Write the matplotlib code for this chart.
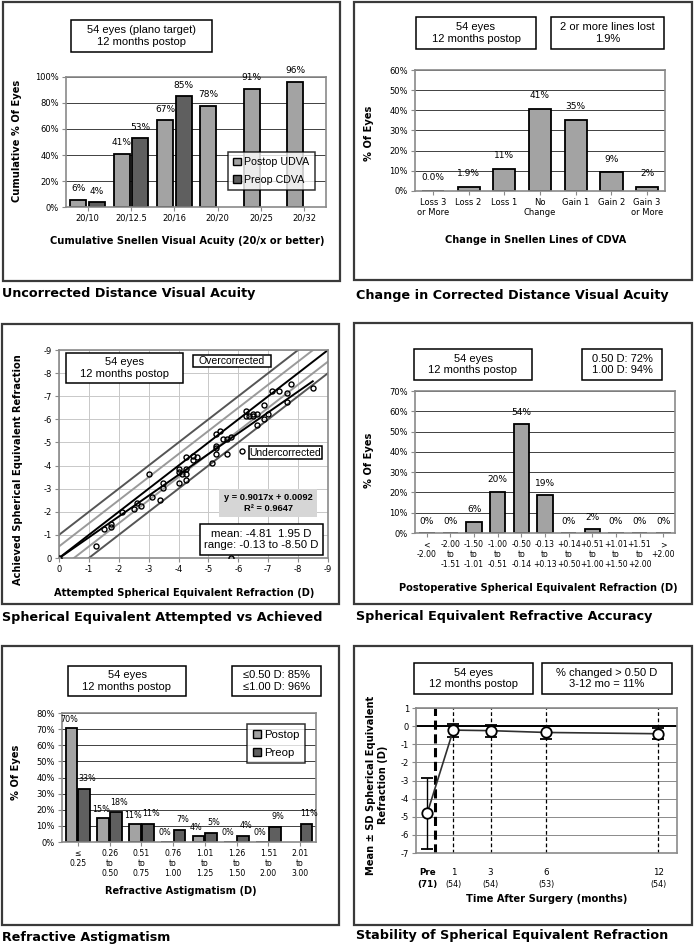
import numpy as np
import matplotlib
matplotlib.use("Agg")
import matplotlib.pyplot as plt
from matplotlib.patches import Rectangle, Patch

plt.rcParams["axes.unicode_minus"] = False

# =============================================================================
# Data
# =============================================================================
# Panel 1: cumulative UDVA / CDVA
snellen_cats = ["20/10", "20/12.5", "20/16", "20/20", "20/25", "20/32"]
udva_postop = [5.6, 40.7, 66.7, 77.8, 90.7, 96.3]
udva_labels = ["6%", "41%", "67%", "78%", "91%", "96%"]
cdva_preop = [3.7, 52.8, 85.0, np.nan, np.nan, np.nan]
cdva_labels = ["4%", "53%", "85%", "", "", ""]

# Panel 2: change in lines of CDVA
line_cats = ["Loss 3\nor More", "Loss 2", "Loss 1", "No\nChange", "Gain 1", "Gain 2", "Gain 3\nor More"]
line_pct = [0.0, 1.9, 11.1, 40.7, 35.2, 9.3, 1.9]
line_labels = ["0.0%", "1.9%", "11%", "41%", "35%", "9%", "2%"]

# Panel 3: attempted vs achieved SE
attempted = [0, -1.25, -1.5, -1.75, -1.75, -2.12, -2.5, -2.62, -2.74, -3.0, -3.11, -3.37,
             -3.49, -3.49, -4.0, -4.0, -4.0, -4.1, -4.24, -4.24, -4.24, -4.24, -4.49, -4.49,
             -4.62, -5.12, -5.24, -5.24, -5.24, -5.24, -5.37, -5.5, -5.62, -5.62, -5.74,
             -5.74, -6.13, -6.24, -6.24, -6.36, -6.5, -6.5, -6.62, -6.62, -6.87, -6.87,
             -7.0, -7.12, -7.37, -7.62, -7.62, -7.75, -8.49]
achieved = [0, -0.5, -1.25, -1.47, -1.36, -2.0, -2.13, -2.4, -2.27, -3.64, -2.64, -2.51,
            -3.25, -3.02, -3.85, -3.72, -3.26, -3.64, -3.85, -3.64, -3.38, -4.37, -4.43, -4.24,
            -4.37, -4.13, -4.52, -4.75, -4.85, -5.37, -5.5, -5.15, -4.52, -5.15, -5.24,
            0.0, -4.62, -6.38, -6.13, -6.13, -6.13, -6.23, -6.23, -5.74, -6.62, -6.0,
            -6.23, -7.24, -7.24, -7.14, -6.77, -7.52, -7.37]
fit_slope, fit_icpt = 0.9017, 0.0092
band_offsets = [-1.0, -0.5, 0.0, 0.5, 1.0]
band_colors = ["#555555", "#9a9a9a", "black", "#9a9a9a", "#555555"]

# Panel 4: SE refractive accuracy
se_cats = ["<\n-2.00", "-2.00\nto\n-1.51", "-1.50\nto\n-1.01", "-1.00\nto\n-0.51", "-0.50\nto\n-0.14",
           "-0.13\nto\n+0.13", "+0.14\nto\n+0.50", "+0.51\nto\n+1.00", "+1.01\nto\n+1.50",
           "+1.51\nto\n+2.00", ">\n+2.00"]
se_pct = [0, 0, 5.6, 20.4, 53.7, 18.5, 0, 1.9, 0, 0, 0]
se_labels = ["0%", "0%", "6%", "20%", "54%", "19%", "0%", "2%", "0%", "0%", "0%"]

# Panel 5: refractive astigmatism
astig_cats = ["\u2264\n0.25", "0.26\nto\n0.50", "0.51\nto\n0.75", "0.76\nto\n1.00", "1.01\nto\n1.25",
              "1.26\nto\n1.50", "1.51\nto\n2.00", "2.01\nto\n3.00"]
astig_postop = [70.4, 14.8, 11.1, 0, 3.7, 0, 0, np.nan]
astig_postop_labels = ["70%", "15%", "11%", "0%", "4%", "0%", "0%", ""]
astig_preop = [32.9, 18.3, 11.0, 7.3, 5.5, 3.7, 9.2, 11.0]
astig_preop_labels = ["33%", "18%", "11%", "7%", "5%", "4%", "9%", "11%"]

# Panel 6: stability
visit_x = [-0.4, 1, 3, 6, 12]
visit_top = ["Pre", "1", "3", "6", "12"]
visit_n = ["(71)", "(54)", "(54)", "(53)", "(54)"]
se_mean = [-4.81, -0.22, -0.25, -0.35, -0.42]
se_sd = [1.95, 0.36, 0.33, 0.37, 0.30]

# =============================================================================
# Layout helpers (pixel coordinates of the 694x946 reference)
# =============================================================================
W, H = 694, 946
LIGHT, DARK = "#a3a3a3", "#5f5f5f"
BOX_FONT = "Liberation Sans"

fig = plt.figure(figsize=(W / 100, H / 100), dpi=100)


def fx(x):
    return x / W


def fy(y):
    return 1 - y / H


def add_axes(l, t, r, b):
    return fig.add_axes([fx(l), fy(b), (r - l) / W, (b - t) / H])


def frame(l, t, r, b):
    fig.add_artist(Rectangle((fx(l), fy(b)), (r - l) / W, (b - t) / H, transform=fig.transFigure,
                             fill=False, ec="#3a3a3a", lw=1.6))


def text_box(l, t, r, b, text, fc="white", **kw):
    fig.add_artist(Rectangle((fx(l), fy(b)), (r - l) / W, (b - t) / H, transform=fig.transFigure,
                             fc=fc, ec="black", lw=1.1, zorder=4))
    opts = dict(family=BOX_FONT, fontsize=8, linespacing=1.2)
    opts.update(kw)
    fig.text(fx((l + r) / 2), fy((t + b) / 2), text, ha="center", va="center", zorder=5, **opts)


def title(x, y, text):
    fig.text(fx(x), fy(y), text, ha="left", va="center", fontsize=9.2, weight="bold")


def xlabel(x, y, text):
    fig.text(fx(x), fy(y), text, ha="center", va="center", fontsize=7.1, weight="bold")


def ylabel(x, y, text):
    fig.text(fx(x), fy(y), text, ha="center", va="center", fontsize=7.1, weight="bold",
             rotation=90, linespacing=1.2)


def style(ax, grid_color="#404040"):
    for s in ax.spines.values():
        s.set_color("#8a8a8a")
        s.set_linewidth(1.2)
    ax.tick_params(labelsize=6, length=3, width=0.8, color="#8a8a8a", pad=2)
    ax.yaxis.grid(True, color=grid_color, lw=0.7)
    ax.set_axisbelow(True)


def pct_axis(ax, top, step):
    ax.set_ylim(0, top)
    ticks = np.arange(0, top + 1, step)
    ax.set_yticks(ticks)
    ax.set_yticklabels([f"{t:.0f}%" for t in ticks])


def bar_labels(ax, xs, vals, labels, off, size=6.5):
    for x, v, lab in zip(xs, vals, labels):
        if lab:
            ax.annotate(lab, (x, 0 if np.isnan(v) else v), xytext=(0, off), textcoords="offset points",
                        ha="center", va="center", fontsize=size)


def legend(ax, handles, x, y, size):
    leg = ax.legend(handles=handles, loc="upper left", bbox_to_anchor=(fx(x), fy(y)),
                    bbox_transform=fig.transFigure, frameon=True, fancybox=False,
                    handlelength=0.7, handleheight=0.7, handletextpad=0.3, borderpad=0.5,
                    labelspacing=0.7, borderaxespad=0, prop={"family": BOX_FONT, "size": size})
    leg.get_frame().set_edgecolor("black")
    leg.get_frame().set_linewidth(1.1)
    return leg


# =============================================================================
# Panel 1: Uncorrected Distance Visual Acuity
# =============================================================================
frame(3, 2, 340, 281)
ax1 = add_axes(66, 77, 326, 207)
style(ax1)
x1 = np.arange(len(snellen_cats))
ax1.bar(x1 - 0.215, udva_postop, 0.37, color=LIGHT, ec="black", lw=1.3)
ax1.bar(x1 + 0.215, cdva_preop, 0.37, color=DARK, ec="black", lw=1.3)
bar_labels(ax1, x1 - 0.215, udva_postop, udva_labels, 8)
bar_labels(ax1, x1 + 0.215, cdva_preop, cdva_labels, 8)
ax1.set_xlim(-0.5, len(snellen_cats) - 0.5)
ax1.set_xticks(x1)
ax1.set_xticklabels(snellen_cats)
pct_axis(ax1, 100, 20)
legend(ax1, [Patch(fc=LIGHT, ec="black", label="Postop UDVA"),
             Patch(fc=DARK, ec="black", label="Preop CDVA")], 228, 152, 7.7)
text_box(71, 20, 212, 52, "54 eyes (plano target)\n12 months postop")
ylabel(17, 141, "Cumulative % Of Eyes")
xlabel(187, 241, "Cumulative Snellen Visual Acuity (20/x or better)")
title(2, 293, "Uncorrected Distance Visual Acuity")

# =============================================================================
# Panel 2: Change in Corrected Distance Visual Acuity
# =============================================================================
frame(354, 2, 692, 280)
ax2 = add_axes(415, 70, 665, 191)
style(ax2)
x2 = np.arange(len(line_cats))
ax2.bar(x2, line_pct, 0.62, color=LIGHT, ec="black", lw=1.3)
bar_labels(ax2, x2, line_pct, line_labels, 9.5)
ax2.set_xlim(-0.5, len(line_cats) - 0.5)
ax2.set_xticks(x2)
ax2.set_xticklabels(line_cats, linespacing=1.15)
pct_axis(ax2, 60, 10)
text_box(416, 17, 536, 49, "54 eyes\n12 months postop")
text_box(551, 17, 664, 49, "2 or more lines lost\n1.9%")
ylabel(369, 133, "% Of Eyes")
xlabel(536, 240, "Change in Snellen Lines of CDVA")
title(356, 295, "Change in Corrected Distance Visual Acuity")

# =============================================================================
# Panel 3: Spherical Equivalent Attempted vs Achieved
# =============================================================================
frame(2, 324, 339, 604)
ax3 = add_axes(59, 350, 328, 558)
style(ax3, grid_color="#c8c8c8")
ax3.xaxis.grid(True, color="#c8c8c8", lw=0.7)
ax3.set_xlim(0, -9)
ax3.set_ylim(0, -9)
ax3.set_xticks(np.arange(0, -10, -1))
ax3.set_yticks(np.arange(0, -10, -1))
xs = np.array([1.5, -10.5])
for off, col in zip(band_offsets, band_colors):
    ax3.plot(xs, xs + off, color=col, lw=1.4, zorder=2)
fit_x = np.array([0, min(attempted)])
ax3.plot(fit_x, fit_slope * fit_x + fit_icpt, color="black", lw=1.4, zorder=2)
ax3.plot(attempted, achieved, "o", ms=3.6, mfc="none", mec="black", mew=1.0, zorder=3)
text_box(66, 353, 183, 383, "54 eyes\n12 months postop")
text_box(193, 355, 271, 367, "Overcorrected", fontsize=7.5)
text_box(249, 446, 322, 459, "Undercorrected", fontsize=7.5)
fig.add_artist(Rectangle((fx(219), fy(517)), (317 - 219) / W, (517 - 489) / H, transform=fig.transFigure,
                         fc="#d6d6d6", ec="none", zorder=4))
fig.text(fx(268), fy(503), f"y = {fit_slope:.4f}x + {fit_icpt:.4f}\nR\u00b2 = 0.9647", ha="center",
         va="center", fontsize=6.7, weight="bold", family=BOX_FONT, zorder=5, linespacing=1.2)
text_box(200, 524, 323, 555, "mean: -4.81  1.95 D\nrange: -0.13 to -8.50 D", fontsize=8.2)
ylabel(18, 470, "Achieved Spherical Equivalent Refraction")
xlabel(184, 593, "Attempted Spherical Equivalent Refraction (D)")
title(2, 617, "Spherical Equivalent Attempted vs Achieved")

# =============================================================================
# Panel 4: Spherical Equivalent Refractive Accuracy
# =============================================================================
frame(354, 323, 692, 604)
ax4 = add_axes(415, 391, 675, 533)
style(ax4)
x4 = np.arange(len(se_cats))
ax4.bar(x4, se_pct, 0.65, color=LIGHT, ec="black", lw=1.3)
bar_labels(ax4, x4, se_pct, se_labels, 8.5)
ax4.set_xlim(-0.5, len(se_cats) - 0.5)
ax4.set_xticks(x4)
ax4.set_xticklabels(se_cats, fontsize=5.6, linespacing=1.15, va="top")
pct_axis(ax4, 70, 10)
text_box(414, 349, 532, 380, "54 eyes\n12 months postop")
text_box(582, 349, 662, 380, "0.50 D: 72%\n1.00 D: 94%")
ylabel(369, 460, "% Of Eyes")
xlabel(538, 588, "Postoperative Spherical Equivalent Refraction (D)")
title(356, 616, "Spherical Equivalent Refractive Accuracy")

# =============================================================================
# Panel 5: Refractive Astigmatism
# =============================================================================
frame(2, 646, 339, 925)
ax5 = add_axes(62, 713, 316, 842)
style(ax5)
x5 = np.arange(len(astig_cats))
ax5.bar(x5 - 0.2, astig_postop, 0.37, color=LIGHT, ec="black", lw=1.3)
ax5.bar(x5 + 0.2, astig_preop, 0.37, color=DARK, ec="black", lw=1.3)
bar_labels(ax5, x5 - 0.27, astig_postop, astig_postop_labels, 6.5, size=5.8)
bar_labels(ax5, x5 + 0.29, astig_preop, astig_preop_labels, 7.5, size=5.8)
ax5.set_xlim(-0.5, len(astig_cats) - 0.5)
ax5.set_xticks(x5)
ax5.set_xticklabels(astig_cats, fontsize=5.6, linespacing=1.15)
pct_axis(ax5, 80, 10)
legend(ax5, [Patch(fc=LIGHT, ec="black", label="Postop"),
             Patch(fc=DARK, ec="black", label="Preop")], 247, 724, 8.2)
text_box(68, 666, 186, 696, "54 eyes\n12 months postop")
text_box(232, 666, 321, 696, "\u22640.50 D: 85%\n\u22641.00 D: 96%", family=["Liberation Sans", "DejaVu Sans"])
ylabel(16, 772, "% Of Eyes")
xlabel(181, 891, "Refractive Astigmatism (D)")
title(2, 937, "Refractive Astigmatism")

# =============================================================================
# Panel 6: Stability of Spherical Equivalent Refraction
# =============================================================================
frame(354, 646, 692, 925)
ax6 = add_axes(416, 708, 677, 853)
style(ax6, grid_color="#8a8a8a")
ax6.set_xlim(-1, 13)
ax6.set_ylim(-7, 1)
ax6.set_yticks(np.arange(1, -8, -1))
ax6.set_xticks([])
ax6.axhline(0, color="black", lw=1.4, zorder=1)
ax6.axvline(0, color="black", lw=2.2, ls=(0, (3, 1.5)), zorder=1)
for v in visit_x[1:]:
    ax6.axvline(v, color="black", lw=0.9, ls=(0, (3, 2)), zorder=1)
ax6.errorbar(visit_x, se_mean, yerr=se_sd, fmt="-o", color="#303030", lw=1.2, ms=7.5,
             mfc="white", mec="black", mew=1.3, ecolor="black", elinewidth=1.0, capsize=4,
             capthick=1.0, zorder=3)
for i, (vx, top, n) in enumerate(zip(visit_x, visit_top, visit_n)):
    bold = "bold" if i == 0 else "normal"
    ax6.text(vx, -0.1, top, transform=ax6.get_xaxis_transform(), ha="center", va="top",
             fontsize=6.3, weight=bold)
    ax6.text(vx, -0.185, n, transform=ax6.get_xaxis_transform(), ha="center", va="top",
             fontsize=6.3 if i == 0 else 5.8, weight=bold)
text_box(414, 663, 533, 694, "54 eyes\n12 months postop")
text_box(542, 663, 672, 694, "% changed > 0.50 D\n3-12 mo = 11%")
ylabel(377, 785, "Mean \u00b1 SD Spherical Equivalent\nRefraction (D)")
xlabel(547, 899, "Time After Surgery (months)")
title(356, 935, "Stability of Spherical Equivalent Refraction")

fig.savefig("out.png", dpi=100)
